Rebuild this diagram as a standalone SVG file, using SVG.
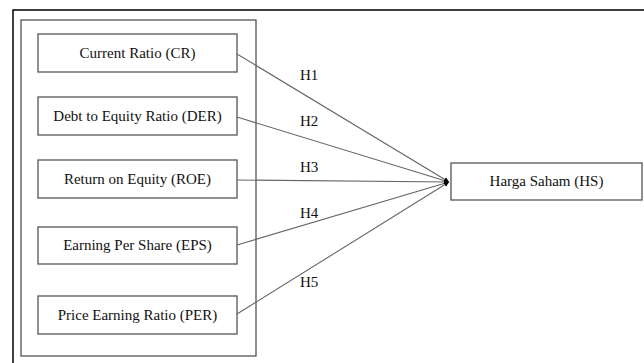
<svg xmlns="http://www.w3.org/2000/svg" width="644" height="363" viewBox="0 0 644 363">
<defs>
<style>
.box{fill:#fff;stroke:#555;stroke-width:1.3}
.lbl{font-family:"Liberation Serif","Times New Roman",serif;font-size:15px;fill:#111;text-anchor:middle}
.h{font-family:"Liberation Serif","Times New Roman",serif;font-size:15px;fill:#111}
.con{stroke:#666;stroke-width:1.1;fill:none}
</style>
<marker id="ah" markerWidth="6" markerHeight="6" refX="5" refY="3" orient="auto" markerUnits="userSpaceOnUse">
<path d="M0,0.5 L5,3 L0,5.5 Z" fill="#000"/>
</marker>
</defs>
<rect width="644" height="363" fill="#fff"/>
<path d="M13,363 V10 H644" fill="none" stroke="#000" stroke-width="1.5"/>
<rect id="group" x="21" y="20" width="235" height="336" fill="none" stroke="#555" stroke-width="1.3"/>
<g id="cr"><rect class="box" x="38" y="34" width="199" height="38"/><text class="lbl" x="137.5" y="58">Current Ratio (CR)</text></g>
<g id="der"><rect class="box" x="38" y="97" width="199" height="38"/><text class="lbl" x="137.5" y="121">Debt to Equity Ratio (DER)</text></g>
<g id="roe"><rect class="box" x="38" y="160" width="199" height="38"/><text class="lbl" x="137.5" y="184">Return on Equity (ROE)</text></g>
<g id="eps"><rect class="box" x="38" y="227" width="199" height="37"/><text class="lbl" x="137.5" y="250">Earning Per Share (EPS)</text></g>
<g id="per"><rect class="box" x="38" y="296" width="199" height="38"/><text class="lbl" x="137.5" y="320">Price Earning Ratio (PER)</text></g>
<g id="hs"><rect class="box" x="451" y="163" width="191" height="37"/><text class="lbl" x="546.5" y="186">Harga Saham (HS)</text></g>
<g id="connectors">
<line class="con" x1="237" y1="54" x2="449" y2="182" marker-end="url(#ah)"/>
<line class="con" x1="237" y1="117" x2="449" y2="182" marker-end="url(#ah)"/>
<line class="con" x1="237" y1="180" x2="449" y2="182" marker-end="url(#ah)"/>
<line class="con" x1="237" y1="245" x2="449" y2="182" marker-end="url(#ah)"/>
<line class="con" x1="237" y1="314" x2="449" y2="182" marker-end="url(#ah)"/>
<text class="h" x="300" y="80">H1</text>
<text class="h" x="300" y="126">H2</text>
<text class="h" x="300" y="172">H3</text>
<text class="h" x="300" y="218">H4</text>
<text class="h" x="300" y="287">H5</text>
</g>
</svg>
